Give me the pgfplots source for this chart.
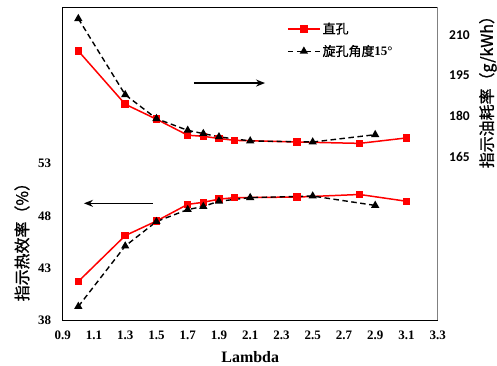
\documentclass[border=0pt]{standalone}
\usepackage{pgfplots}
\pgfplotsset{compat=1.18}
\usepackage{fontspec}
\setmainfont{Liberation Serif}
\newfontfamily\cjk{Noto Sans CJK SC}[FakeBold=1.2]
\newfontfamily\carlito{Carlito}
\usetikzlibrary{arrows.meta}
\definecolor{myred}{RGB}{255,0,0}
\pgfplotsset{mylegimg/.style={legend image code/.code={\draw[mark repeat=2,mark phase=2] plot coordinates {(0bp,0bp) (16bp,0bp) (32bp,0bp)};}}}
\begin{document}
\begin{tikzpicture}
\path[use as bounding box] (-62.7bp,-46bp) rectangle (434.3bp,320bp);
\begin{axis}[
  scale only axis, width=375bp, height=312.5bp,
  xmin=0.9, xmax=3.3, ymin=38, ymax=68,
  xtick={0.9,1.1,1.3,1.5,1.7,1.9,2.1,2.3,2.5,2.7,2.9,3.1,3.3},
  ytick={38,43,48,53},
  major tick length=0pt,
  axis line style={black, line width=1pt},
  /pgf/number format/assume math mode=true,
  xticklabel style={/pgf/number format/fixed, /pgf/number format/fixed zerofill, /pgf/number format/precision=1, yshift=-7bp},
  ticklabel style={font=\bfseries\fontsize{13}{15}\selectfont},
  yticklabel style={xshift=-8bp},
  xlabel={Lambda},
  xlabel style={font=\bfseries\fontsize{16}{18}\selectfont, at={(axis description cs:0.5,0)}, anchor=center, yshift=-37bp},
  ylabel={\cjk 指示热效率（\%）},
  ylabel style={font=\fontsize{16}{18}\selectfont, at={(axis description cs:-0.1085,0.262)}, anchor=center, rotate=0},
  clip=false,
]
\addplot[myred, line width=1.5bp, mark=square*, mark size=3bp, mark options={solid}] coordinates {
 (1.0,41.7) (1.3,46.1) (1.5,47.5) (1.7,49.1) (1.8,49.3) (1.9,49.6) (2.0,49.75) (2.4,49.8) (2.8,50.05) (3.1,49.4)};
\addplot[black, line width=1.4bp, dash pattern=on 5.5bp off 3.5bp, mark=triangle*, mark size=3.4bp, mark options={solid}] coordinates {
 (1.0,39.3) (1.3,45.1) (1.5,47.45) (1.7,48.6) (1.8,48.9) (1.9,49.4) (2.1,49.75) (2.5,49.9) (2.9,49.0)};
\draw[-{Stealth[length=9bp,width=7bp]}, line width=1.4bp] (axis cs:1.476,49.2) -- (axis cs:1.036,49.2);
\end{axis}
\begin{axis}[
  scale only axis, width=375bp, height=312.5bp,
  xmin=0.9, xmax=3.3, ymin=105, ymax=220,
  axis x line=none, axis y line*=right,
  ytick={165,180,195,210},
  major tick length=0pt,
  y axis line style={gray, line width=1.2pt},
  /pgf/number format/assume math mode=true,
  yticklabel style={font=\carlito\bfseries\fontsize{13.5}{15}\selectfont, xshift=8bp},
  ylabel={\cjk 指示油耗率（g/kWh）},
  ylabel style={font=\fontsize{16}{18}\selectfont, at={(axis description cs:1.134,0.742)}, anchor=center, rotate=0},
  legend style={draw=none, fill=none, at={(axis description cs:0.59,0.965)}, anchor=north west,
    font=\cjk\fontsize{13}{15}\selectfont, row sep=6bp, nodes={inner sep=2bp}},
  legend cell align=left,
  clip=false,
]
\addplot[myred, line width=1.5bp, mark=square*, mark size=3bp, mark options={solid}, mylegimg] coordinates {
 (1.0,204.0) (1.3,184.4) (1.5,178.9) (1.7,173.0) (1.8,172.6) (1.9,171.8) (2.0,171.1) (2.4,170.5) (2.8,170.0) (3.1,172.0)};
\addlegendentry{直孔}
\addplot[black, line width=1.4bp, dash pattern=on 5.5bp off 3.5bp, mark=triangle*, mark size=3.4bp, mark options={solid}, mylegimg] coordinates {
 (1.0,215.9) (1.3,187.9) (1.5,179.1) (1.7,174.8) (1.8,173.6) (1.9,172.4) (2.1,170.9) (2.5,170.5) (2.9,173.2)};
\addlegendentry{旋孔角度{\bfseries\rmfamily 15°}}
\draw[-{Stealth[length=9bp,width=7bp]}, line width=1.4bp] (axis cs:1.74,192.2) -- (axis cs:2.195,192.2);
\end{axis}
\end{tikzpicture}
\end{document}
